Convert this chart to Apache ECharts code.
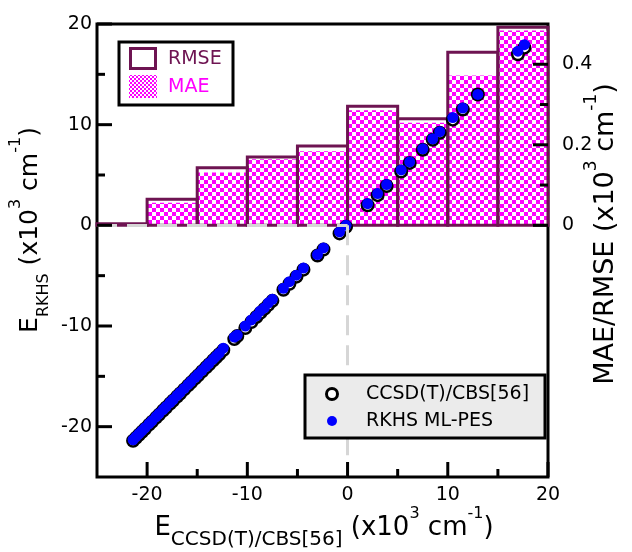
<!DOCTYPE html>
<html>
<head>
<meta charset="utf-8">
<script src="https://cdn.jsdelivr.net/npm/echarts@6/dist/echarts.min.js"></script>
<style>
  html, body { margin: 0; padding: 0; background: #fff; }
  #chart { width: 632px; height: 552px; }
</style>
</head>
<body>
<div id="chart"></div>
<script>
// Reference energies (CCSD(T)/CBS[56]) and RKHS predictions, in 10^3 cm^-1
const ccsdEnergies = [
  -21.4, -21.1, -20.8, -20.5, -20.2, -19.8, -19.5, -19.1, -18.8, -18.4,
  -18.1, -17.7, -17.4, -17.0, -16.7, -16.3, -15.9, -15.6, -15.2, -14.9,
  -14.5, -14.1, -13.8, -13.4, -13.1, -12.8, -12.4, -11.3, -11.0, -10.2,
  -9.6, -9.1, -8.7, -8.3, -7.9, -7.5, -6.4, -5.8, -5.1, -4.4,
  -3.0, -2.4, -0.8, -0.15,
  2.0, 3.0, 3.9, 5.35, 6.2, 7.5, 8.5, 9.2, 10.5, 11.5, 13.0, 17.0, 17.65
];
const rkhsEnergies = [
  -21.3, -21.0, -20.7, -20.4, -20.1, -19.7, -19.4, -19.0, -18.7, -18.3,
  -18.0, -17.6, -17.3, -16.9, -16.6, -16.2, -15.8, -15.5, -15.1, -14.8,
  -14.4, -14.0, -13.7, -13.3, -13.0, -12.7, -12.2, -11.1, -10.9, -10.0,
  -9.4, -9.0, -8.5, -8.2, -7.7, -7.35, -6.25, -5.6, -4.95, -4.25,
  -2.9, -2.25, -0.65, 0.0,
  2.15, 3.15, 4.05, 5.5, 6.3, 7.6, 8.6, 9.3, 10.7, 11.65, 13.0, 17.3, 17.95
];

// Error histogram over energy bins (10^3 cm^-1)
const binStarts = [-25, -20, -15, -10, -5, 0, 5, 10, 15];
const binWidth = 5;
const rmsePerBin = [0.004, 0.065, 0.143, 0.170, 0.197, 0.296, 0.265, 0.430, 0.492];
const maePerBin  = [0.003, 0.056, 0.131, 0.164, 0.184, 0.286, 0.255, 0.372, 0.484];

// Axis ranges and tick values
const energyRange = [-25, 20];
const errorRange = [-0.625, 0.5];
const energyTicks = [-20, -10, 0, 10, 20];
const energyMinorTicks = [-15, -5, 5, 15];
const errorTicks = [0, 0.2, 0.4];
const errorMinorTicks = [0.1, 0.3];

const FONT = '"DejaVu Sans", sans-serif';
const MAROON = '#6e1452';
const MAGENTA = '#ff00ff';
const TICK_COLOR = '#000000';
const MAJOR_LEN = 15, MINOR_LEN = 8;

function checkerTile(cell) {
  const c = document.createElement('canvas');
  c.width = cell * 2; c.height = cell * 2;
  const ctx = c.getContext('2d');
  ctx.fillStyle = '#ffffff';
  ctx.fillRect(0, 0, cell * 2, cell * 2);
  ctx.fillStyle = MAGENTA;
  ctx.fillRect(0, 0, cell, cell);
  ctx.fillRect(cell, cell, cell, cell);
  return c;
}
const barPattern = { image: checkerTile(4), repeat: 'repeat' };
const swatchPattern = { image: checkerTile(2), repeat: 'repeat' };

const histData = (vals) => binStarts.map((lo, i) => [lo, lo + binWidth, vals[i]]);

function binRenderer(styleOf) {
  return function (params, api) {
    const lo = api.value(0), hi = api.value(1), v = api.value(2);
    const p0 = api.coord([lo, 0]);
    const p1 = api.coord([hi, v]);
    return {
      type: 'rect',
      shape: { x: p0[0], y: p1[1], width: p1[0] - p0[0], height: p0[1] - p1[1] },
      style: styleOf()
    };
  };
}

const labelStyle = { fontFamily: FONT, fontSize: 19, color: '#000' };
const noLine = { show: false, onZero: false };

function frameAxis(range, position, labels, margin) {
  return {
    type: 'value', position: position, min: range[0], max: range[1],
    splitLine: { show: false }, axisLine: noLine, axisTick: { show: false },
    axisLabel: Object.assign({ show: true, customValues: labels, margin: margin }, labelStyle)
  };
}

// Legend boxes
const legendText = (x, y, text, color) => ({
  type: 'text', x: x, y: y, z: 100,
  style: { text: text, fill: color, fontFamily: FONT, fontSize: 19, verticalAlign: 'middle', align: 'left' }
});
const legendGraphics = [
  { type: 'rect', z: 99, shape: { x: 119, y: 42, width: 114, height: 63 },
    style: { fill: '#fff', stroke: '#000', lineWidth: 3 } },
  { type: 'rect', z: 100, shape: { x: 130.5, y: 48.5, width: 25, height: 20 },
    style: { fill: '#fff', stroke: MAROON, lineWidth: 3 } },
  { type: 'rect', z: 100, shape: { x: 129, y: 75, width: 28, height: 23 },
    style: { fill: swatchPattern } },
  legendText(168, 59, 'RMSE', MAROON),
  legendText(168, 87, 'MAE', MAGENTA),

  { type: 'rect', z: 99, shape: { x: 305, y: 375, width: 240, height: 63 },
    style: { fill: '#ebebeb', stroke: '#000', lineWidth: 3 } },
  { type: 'circle', z: 100, shape: { cx: 332, cy: 394, r: 5.5 },
    style: { fill: '#fff', stroke: '#000', lineWidth: 3 } },
  { type: 'circle', z: 100, shape: { cx: 332, cy: 421, r: 5 },
    style: { fill: '#0000ff' } },
  legendText(366, 394, 'CCSD(T)/CBS[56]', '#000'),
  legendText(366, 421, 'RKHS ML-PES', '#000')
];

const titleGraphics = [
  {
    type: 'text', x: 30, y: 230, rotation: Math.PI / 2,
    style: {
      text: '{m|E}{sub|RKHS}{m| (x10}{sup|3}{m| cm}{sup|-1}{m|)}',
      align: 'center', verticalAlign: 'middle', fill: '#000',
      rich: {
        m: { fontFamily: FONT, fontSize: 25, lineHeight: 44, verticalAlign: 'middle' },
        sub: { fontFamily: FONT, fontSize: 16, verticalAlign: 'bottom' },
        sup: { fontFamily: FONT, fontSize: 16, verticalAlign: 'top' }
      }
    }
  },
  {
    type: 'text', x: 606, y: 234, rotation: Math.PI / 2,
    style: {
      text: '{m|MAE/RMSE (x10}{sup|3}{m| cm}{sup|-1}{m|)}',
      align: 'center', verticalAlign: 'middle', fill: '#000',
      rich: {
        m: { fontFamily: FONT, fontSize: 27, lineHeight: 46, verticalAlign: 'middle' },
        sup: { fontFamily: FONT, fontSize: 17, verticalAlign: 'top' }
      }
    }
  },
  {
    type: 'text', x: 324, y: 528,
    style: {
      text: '{m|E}{sub|CCSD(T)/CBS[56]}{m| (x10}{sup|3}{m| cm}{sup|-1}{m|)}',
      align: 'center', verticalAlign: 'middle', fill: '#000',
      rich: {
        m: { fontFamily: FONT, fontSize: 26, lineHeight: 44, verticalAlign: 'middle' },
        sub: { fontFamily: FONT, fontSize: 20, verticalAlign: 'bottom' },
        sup: { fontFamily: FONT, fontSize: 16, verticalAlign: 'top' }
      }
    }
  }
];

const chart = echarts.init(document.getElementById('chart'), null, { renderer: 'canvas' });

chart.setOption({
  animation: false,
  backgroundColor: '#fff',
  grid: {
    left: 97, right: 84, top: 24, bottom: 75,
    show: true, borderColor: '#000', borderWidth: 3, backgroundColor: 'transparent'
  },
  xAxis: [frameAxis(energyRange, 'bottom', energyTicks, 9)],
  yAxis: [
    frameAxis(energyRange, 'left', energyTicks, 5),
    frameAxis(errorRange, 'right', errorTicks, 14)
  ],
  graphic: titleGraphics.concat(legendGraphics),
  series: [
    {
      name: 'MAE', type: 'custom', xAxisIndex: 0, yAxisIndex: 1,
      encode: { x: [0, 1], y: 2 },
      data: histData(maePerBin),
      renderItem: binRenderer(() => ({ fill: barPattern, stroke: null }))
    },
    {
      name: 'RMSE', type: 'custom', xAxisIndex: 0, yAxisIndex: 1,
      encode: { x: [0, 1], y: 2 },
      data: histData(rmsePerBin),
      renderItem: binRenderer(() => ({ fill: 'none', stroke: MAROON, lineWidth: 3 }))
    },
    {
      name: 'CCSD(T)/CBS[56]', type: 'scatter', xAxisIndex: 0, yAxisIndex: 0,
      symbol: 'circle', symbolSize: 11.5,
      itemStyle: { color: '#fff', borderColor: '#000', borderWidth: 2.5, opacity: 1 },
      data: ccsdEnergies.map((e) => [e, e]),
      markLine: {
        silent: true, symbol: 'none', label: { show: false },
        lineStyle: { color: '#d6d6d6', width: 3, type: [20, 10] },
        data: [
          [{ coord: [0, 0] }, { coord: [0, energyRange[0]] }],
          [{ coord: [energyRange[0], 0] }, { coord: [0, 0] }]
        ]
      }
    },
    {
      name: 'RKHS ML-PES', type: 'scatter', xAxisIndex: 0, yAxisIndex: 0,
      symbol: 'circle', symbolSize: 11,
      itemStyle: { color: '#0000ff', opacity: 1 },
      data: ccsdEnergies.map((e, i) => [e, rkhsEnergies[i]])
    }
  ]
});

// Inward tick marks on the frame, positioned through the axis scales
function tickMarks(values, side, length) {
  return values.map((v) => {
    let p, dx = 0, dy = 0;
    if (side === 'bottom') {
      p = chart.convertToPixel({ xAxisIndex: 0, yAxisIndex: 0 }, [v, energyRange[0]]); dy = -length;
    } else if (side === 'left') {
      p = chart.convertToPixel({ xAxisIndex: 0, yAxisIndex: 0 }, [energyRange[0], v]); dx = length;
    } else {
      p = chart.convertToPixel({ xAxisIndex: 0, yAxisIndex: 1 }, [energyRange[1], v]); dx = -length;
    }
    return {
      type: 'line', z: 50, silent: true,
      shape: { x1: p[0], y1: p[1], x2: p[0] + dx, y2: p[1] + dy },
      style: { stroke: TICK_COLOR, lineWidth: 3 }
    };
  });
}

const tickGraphics = [].concat(
  tickMarks(energyTicks, 'bottom', MAJOR_LEN),
  tickMarks(energyMinorTicks, 'bottom', MINOR_LEN),
  tickMarks(energyTicks, 'left', MAJOR_LEN),
  tickMarks(energyMinorTicks, 'left', MINOR_LEN),
  tickMarks(errorTicks, 'right', MAJOR_LEN),
  tickMarks(errorMinorTicks, 'right', MINOR_LEN)
);

chart.setOption({ graphic: titleGraphics.concat(legendGraphics, tickGraphics) });
</script>
</body>
</html>
